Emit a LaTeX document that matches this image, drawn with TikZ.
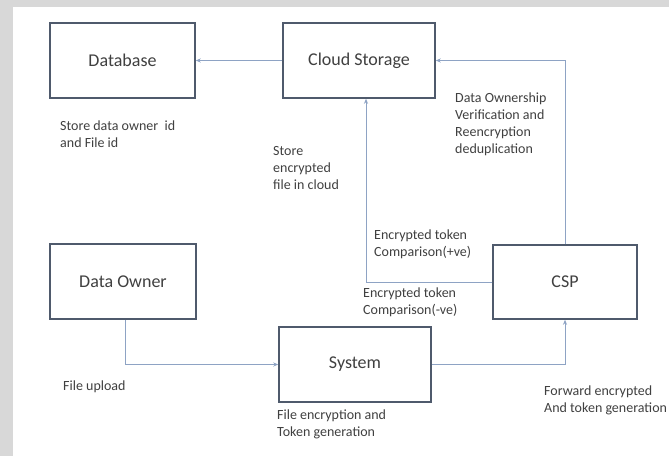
\documentclass[tikz,border=0pt]{standalone}
\usepackage{fontspec}
\setmainfont{Carlito}
\usetikzlibrary{arrows.meta}
\definecolor{boxline}{HTML}{4F5A6C}
\definecolor{connline}{HTML}{8EA3C4}
\definecolor{txt}{HTML}{404040}
\definecolor{bggrey}{HTML}{D8D8D8}
\tikzset{
  blockbox/.style={draw=boxline, line width=1.5pt, fill=white, minimum width=#1, minimum height=75pt, inner sep=0pt, text=txt, font=\fontsize{18}{21}\selectfont},
  blockbox/.default=146pt,
  conn/.style={draw=connline, line width=1pt, -{Stealth[length=5pt,width=4pt]}},
  note/.style={anchor=north west, inner sep=0pt, align=left, text=txt, font=\fontsize{14}{17}\selectfont}
}
\begin{document}
\begin{tikzpicture}[x=1pt,y=-1pt]
\useasboundingbox (0,0) rectangle (669,456);
\fill[bggrey] (0,0) rectangle (669,456);
\fill[white] (13,7) rectangle (669,456);

\node[blockbox=145pt] (db) at (122.5,60.5) {Database};
\node[blockbox=152pt] (cloud) at (359,60.5) {Cloud Storage};
\node[blockbox=146pt] (owner) at (123,281.5) {Data Owner};
\node[blockbox=152pt] (sys) at (355,364.5) {System};
\node[blockbox=144pt, minimum height=74pt] (csp) at (565,282) {CSP};

\draw[conn] (cloud.west) -- (db.east);
\draw[conn] (csp.west) -| ([xshift=7pt]cloud.south);
\draw[conn] (csp.north) |- (cloud.east);
\draw[conn] ([xshift=2pt]owner.south) |- (sys.west);
\draw[conn] (sys.east) -| (csp.south);

\node[note] (n1) at (60,121) {Store data owner\ \ id\\and File id};
\node[note] (n2) at (273,146) {Store\\encrypted\\file in cloud};
\node[note] (n3) at (455,93) {Data Ownership\\Verification and\\Reencryption\\deduplication};
\node[note] (n4) at (374,230) {Encrypted token\\Comparison(+ve)};
\node[note] (n5) at (363,288) {Encrypted token\\Comparison(-ve)};
\node[note] (n6) at (63,381) {File upload};
\node[note] (n7) at (277,410) {File encryption and\\Token generation};
\node[note] (n8) at (544,386) {Forward encrypted\\And token generation};
\end{tikzpicture}
\end{document}
